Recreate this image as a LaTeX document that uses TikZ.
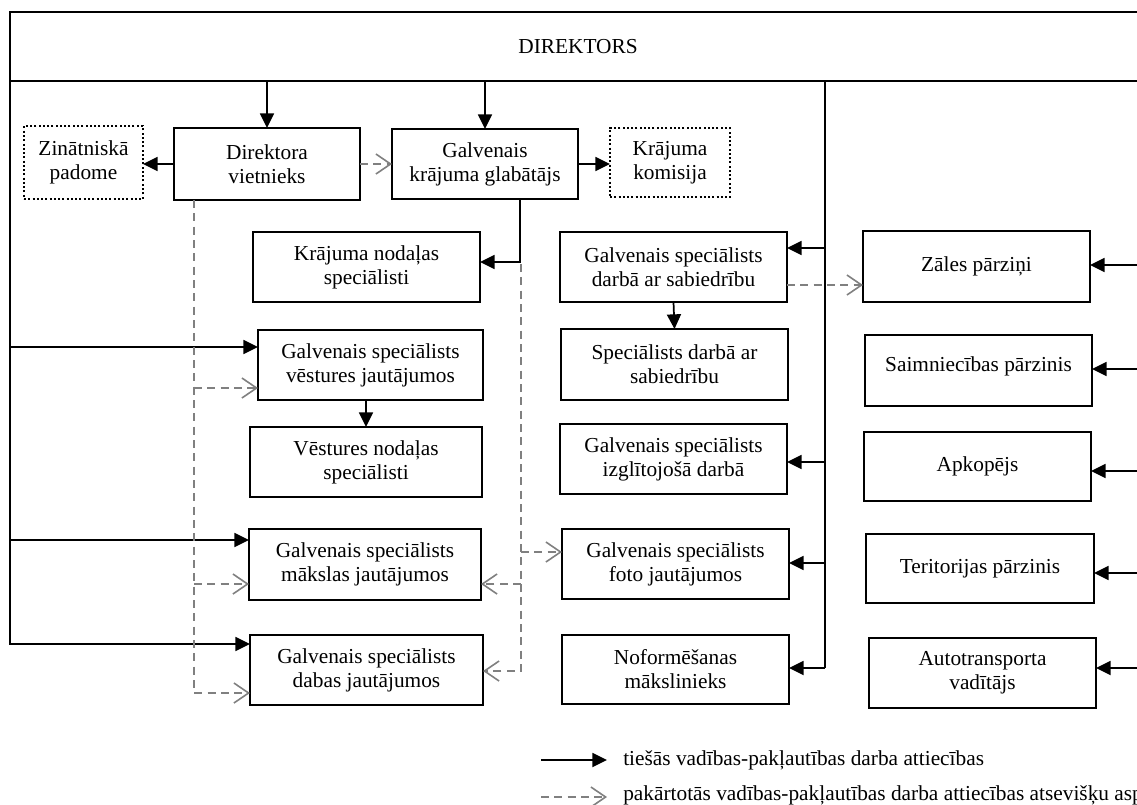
\documentclass[tikz,border=0pt]{standalone}
\usepackage{fontspec}
\setmainfont{Liberation Serif}
\usetikzlibrary{arrows.meta}
\definecolor{dgray}{RGB}{128,128,128}
\tikzset{
  box/.style={draw=black, line width=1.4pt, inner sep=0pt, outer sep=0pt, align=center, font=\fontsize{16}{18}\selectfont},
  sz/.style 2 args={minimum width=#1*0.75pt, minimum height=#2*0.75pt},
  dotbox/.style={box, line width=1.6pt, dash pattern=on 1.5pt off 1.7pt},
  sol/.style={draw=black, line width=1.3pt, -{Triangle[length=11pt,width=10.5pt]}},
  solline/.style={draw=black, line width=1.3pt},
  dsh/.style={draw=dgray, line width=1.2pt, dash pattern=on 6pt off 4pt, -{Straight Barb[length=11pt,width=15pt,line width=1.2pt]}},
  lbl/.style={anchor=west, inner sep=0pt, font=\fontsize{16}{18}\selectfont},
}
\begin{document}
\begin{tikzpicture}[x=0.75pt,y=-0.75pt]
\useasboundingbox (0,0) rectangle (1137,804);
\fill[white] (0,0) rectangle (1137,804);
\clip (0,0) rectangle (1137,804);

% boxes
\node[box, sz={1136}{69}] (dir) at (578,46.5) {DIREKTORS};
\node[dotbox, sz={119}{73}] (zp) at (83.5,162.5) {Zinātniskā\\padome};
\node[box, sz={186}{72}] (dv) at (267,164) {Direktora\\vietnieks};
\node[box, sz={186}{70}] (gkg) at (485,164) {Galvenais\\krājuma glabātājs};
\node[dotbox, sz={120}{69}] (kk) at (670,162.5) {Krājuma\\komisija};
\node[box, sz={227}{70}] (kns) at (366.5,267) {Krājuma nodaļas\\speciālisti};
\node[box, sz={225}{70}] (gsv) at (370.5,365) {Galvenais speciālists\\vēstures jautājumos};
\node[box, sz={232}{70}] (vns) at (366,462) {Vēstures nodaļas\\speciālisti};
\node[box, sz={232}{71}] (gsm) at (365,564.5) {Galvenais speciālists\\mākslas jautājumos};
\node[box, sz={233}{70}] (gsd) at (366.5,670) {Galvenais speciālists\\dabas jautājumos};
\node[box, sz={227}{70}] (gss) at (673.5,267) {Galvenais speciālists\\darbā ar sabiedrību};
\node[box, sz={227}{71}] (sds) at (674.5,364.5) {Speciālists darbā ar\\sabiedrību};
\node[box, sz={227}{70}] (gsi) at (673.5,459) {Galvenais speciālists\\izglītojošā darbā};
\node[box, sz={227}{70}] (gsf) at (675.5,564) {Galvenais speciālists\\foto jautājumos};
\node[box, sz={227}{69}] (nm) at (675.5,669.5) {Noformēšanas\\mākslinieks};
\node[box, sz={227}{71}] (zal) at (976.5,266.5) {Zāles pārziņi};
\node[box, sz={227}{71}] (sai) at (978.5,370.5) {\raisebox{9pt}{Saimniecības pārzinis}};
\node[box, sz={227}{69}] (apk) at (977.5,466.5) {Apkopējs};
\node[box, sz={228}{69}] (ter) at (980,568.5) {Teritorijas pārzinis};
\node[box, sz={227}{70}] (aut) at (982.5,673) {Autotransporta\\vadītājs};

% coordinates
\coordinate (Lend) at (10,645);
\coordinate (L1) at (10,347);
\coordinate (L2) at (10,540);
\coordinate (L3) at (10,644);
\coordinate (M0) at (825,81);
\coordinate (M1) at (825,248);
\coordinate (M2) at (825,462);
\coordinate (M3) at (825,563);
\coordinate (M4) at (825,668);
\coordinate (R1) at (1150,265);
\coordinate (R2) at (1150,369);
\coordinate (R3) at (1150,471);
\coordinate (R4) at (1150,573);
\coordinate (R5) at (1150,668);
\coordinate (k1) at (520,262);
\coordinate (d1a) at (194,200);
\coordinate (d1v) at (194,388);
\coordinate (d1m) at (194,584);
\coordinate (d1d) at (194,693);
\coordinate (d2a) at (521,264);
\coordinate (d2f) at (521,552);
\coordinate (d2m) at (521,584);
\coordinate (d2d) at (521,671);
\coordinate (zs) at (800,285);

% solid connectors
\draw[solline] (dir.south west) -- (Lend);
\draw[sol] (L1) -- (gsv.west |- L1);
\draw[sol] (L2) -- (gsm.west |- L2);
\draw[sol] (L3) -- (gsd.west |- L3);
\draw[solline] (M0) -- (M4);
\draw[sol] (M1) -- (gss.east |- M1);
\draw[sol] (M2) -- (gsi.east |- M2);
\draw[sol] (M3) -- (gsf.east |- M3);
\draw[sol] (M4) -- (nm.east |- M4);
\draw[sol] (R1) -- (zal.east |- R1);
\draw[sol] (R2) -- (sai.east |- R2);
\draw[sol] (R3) -- (apk.east |- R3);
\draw[sol] (R4) -- (ter.east |- R4);
\draw[sol] (R5) -- (aut.east |- R5);
\draw[sol] (dv.north |- dir.south) -- (dv.north);
\draw[sol] (gkg.north |- dir.south) -- (gkg.north);
\draw[sol] (dv.west) -- (zp.east |- dv.west);
\draw[sol] (gkg.east) -- (kk.west |- gkg.east);
\draw[sol] (gkg.south -| k1) -- (k1) -- (kns.east |- k1);
\draw[sol] (vns.north |- gsv.south) -- (vns.north);
\draw[sol] (gss.south) -- (sds.north);

% dashed connectors
\draw[dsh] (dv.east) -- (gkg.west);
\draw[dsh] (gss.east |- zs) -- (zal.west |- zs);
\draw[dsh] (d1a) -- (d1d) -- (gsd.west |- d1d);
\draw[dsh] (d1v) -- (gsv.west |- d1v);
\draw[dsh] (d1m) -- (gsm.west |- d1m);
\draw[dsh] (d2a) -- (d2d) -- (gsd.east |- d2d);
\draw[dsh] (d2f) -- (gsf.west |- d2f);
\draw[dsh] (d2m) -- (gsm.east |- d2m);

% legend
\coordinate (g1a) at (541,760);
\coordinate (g1b) at (607,760);
\coordinate (g2a) at (541,797);
\coordinate (g2b) at (607,797);
\draw[sol] (g1a) -- (g1b);
\draw[dsh] (g2a) -- (g2b);
\node[lbl] (t1) at (623,760) {tiešās vadības-pakļautības darba attiecības};
\node[lbl] (t2) at (623,795) {pakārtotās vadības-pakļautības darba attiecības atsevišķu asp};
\end{tikzpicture}
\end{document}
